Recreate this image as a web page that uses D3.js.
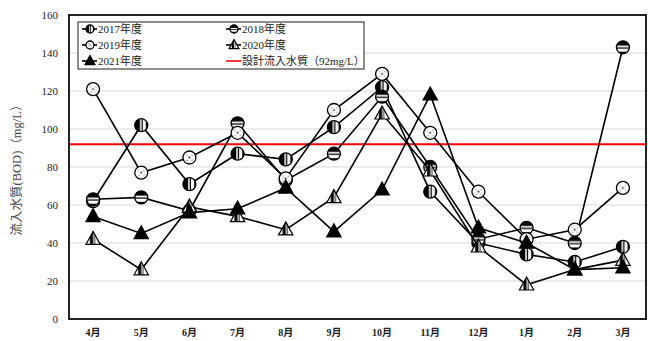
<!DOCTYPE html>
<html>
<head>
<meta charset="utf-8">
<script src="https://cdn.jsdelivr.net/npm/d3@7"></script>
<style>
  html, body { margin: 0; padding: 0; background: #fff; }
  svg { display: block; }
  text { font-family: "Liberation Serif", "Times New Roman", "Noto Sans CJK JP", serif; }
</style>
</head>
<body>
<svg id="chart" width="648" height="341"></svg>
<script>
// Monthly influent BOD (mg/L) by fiscal year
const months = ["4月","5月","6月","7月","8月","9月","10月","11月","12月","1月","2月","3月"];
const fy2017 = [62, 102, 71, 87, 84, 101, 122, 67, 40, 34, 30, 38];
const fy2018 = [63, 64, 57, 103, 73, 87, 117, 80, 42, 48, 40, 143];
const fy2019 = [121, 77, 85, 98, 74, 110, 129, 98, 67, 42, 47, 69];
const fy2020 = [42, 26, 59, 54, 47, 64, 108, 78, 38, 18, 26, 31];
const fy2021 = [54, 45, 56, 58, 69, 46, 68, 118, 48, 40, 26, 27];
const designValue = 92;
const yTicks = [0, 20, 40, 60, 80, 100, 120, 140, 160];
const seriesNames = ["2017年度","2018年度","2019年度","2020年度","2021年度"];
const designLabel = "設計流入水質（92mg/L）";
const yTitle = "流入水質(BOD)（mg/L）";

const series = [
  { name: seriesNames[0], values: fy2017, shape: "circle", fill: "url(#vstripe)" },
  { name: seriesNames[1], values: fy2018, shape: "circle", fill: "url(#hstripe)" },
  { name: seriesNames[2], values: fy2019, shape: "circle", fill: "url(#dots)" },
  { name: seriesNames[3], values: fy2020, shape: "triangle", fill: "url(#vstripeTri)" },
  { name: seriesNames[4], values: fy2021, shape: "triangle", fill: "#000" }
];

const svg = d3.select("#chart");
const margin = { left: 69, right: 1, top: 15, bottom: 22 };
const W = 648, H = 341;
const innerW = W - margin.left - margin.right;
const plotBottom = 319;

const x = d3.scaleBand().domain(months).range([margin.left, W - margin.right]);
const y = d3.scaleLinear().domain([0, 160]).range([plotBottom, margin.top]);

// Marker fill patterns
const defs = svg.append("defs");
function stripePattern(id, bands, vertical) {
  const p = defs.append("pattern").attr("id", id)
    .attr("patternUnits", "objectBoundingBox")
    .attr("patternContentUnits", "objectBoundingBox")
    .attr("width", 1).attr("height", 1);
  p.append("rect").attr("width", 1).attr("height", 1).attr("fill", "#fff");
  bands.forEach(([a, b]) => {
    if (vertical) p.append("rect").attr("x", a).attr("y", 0).attr("width", b - a).attr("height", 1).attr("fill", "#000");
    else p.append("rect").attr("x", 0).attr("y", a).attr("width", 1).attr("height", b - a).attr("fill", "#000");
  });
}
stripePattern("vstripe", [[0, 0.4], [0.52, 0.62], [0.86, 1]], true);
stripePattern("hstripe", [[0, 0.36], [0.5, 0.6], [0.84, 1]], false);
stripePattern("vstripeTri", [[0.28, 0.5], [0.58, 0.64]], true);
const dp = defs.append("pattern").attr("id", "dots")
  .attr("patternUnits", "objectBoundingBox")
  .attr("patternContentUnits", "objectBoundingBox")
  .attr("width", 1).attr("height", 1);
dp.append("rect").attr("width", 1).attr("height", 1).attr("fill", "#fff");
[[0.5, 0.5, 0.08], [0.3, 0.3, 0.04], [0.7, 0.32, 0.04], [0.32, 0.72, 0.04], [0.7, 0.7, 0.04]]
  .forEach(([cx, cy, r]) => dp.append("circle").attr("cx", cx).attr("cy", cy).attr("r", r).attr("fill", "#333"));

// Gridlines
svg.append("g").selectAll("line").data(yTicks.filter(d => d > 0 && d < 160)).join("line")
  .attr("x1", margin.left).attr("x2", W - margin.right)
  .attr("y1", d => y(d)).attr("y2", d => y(d))
  .attr("stroke", "#d9d9d9").attr("stroke-width", 1);

// Y axis
const yAxis = svg.append("g").attr("transform", `translate(${margin.left},0)`)
  .call(d3.axisLeft(y).tickValues(yTicks).tickSize(0).tickPadding(11));
yAxis.select(".domain").remove();
yAxis.selectAll("text").attr("font-size", 11).attr("fill", "#222")
  .style("font-family", "'Liberation Serif', serif");

// X axis labels
const xAxis = svg.append("g").attr("transform", `translate(0,${plotBottom})`)
  .call(d3.axisBottom(x).tickSize(0).tickPadding(10));
xAxis.select(".domain").remove();
xAxis.selectAll("text").attr("font-size", 10).attr("font-weight", "bold").attr("fill", "#222");

// Plot frame
svg.append("rect").attr("x", margin.left).attr("y", margin.top)
  .attr("width", innerW - 1).attr("height", plotBottom - margin.top)
  .attr("fill", "none").attr("stroke", "#222").attr("stroke-width", 2);

// Y axis title
svg.append("text")
  .attr("transform", `translate(21,${(margin.top + plotBottom) / 2}) rotate(-90)`)
  .attr("text-anchor", "middle").attr("font-size", 12.5).attr("fill", "#444")
  .text(yTitle);

// Design influent quality line
svg.append("line")
  .attr("x1", margin.left + 1).attr("x2", W - margin.right - 1)
  .attr("y1", y(designValue)).attr("y2", y(designValue))
  .attr("stroke", "#ff0000").attr("stroke-width", 2);

// Series lines and markers
const line = d3.line().x((d, i) => x(months[i]) + x.bandwidth() / 2).y(d => y(d));
const triPath = s => `M0,${-s * 0.6}L${s * 0.55},${s * 0.4}L${-s * 0.55},${s * 0.4}Z`;

function drawMarker(g, shape, fill, cx, cy, size) {
  if (shape === "circle") {
    g.append("circle").attr("cx", cx).attr("cy", cy).attr("r", size / 2)
      .attr("fill", fill).attr("stroke", "#000").attr("stroke-width", 1.3);
  } else {
    g.append("path").attr("d", triPath(size)).attr("transform", `translate(${cx},${cy})`)
      .attr("fill", fill).attr("stroke", "#000").attr("stroke-width", 1.2);
  }
}

series.forEach(s => {
  const g = svg.append("g");
  g.append("path").datum(s.values).attr("d", line)
    .attr("fill", "none").attr("stroke", "#000").attr("stroke-width", 1.6);
  s.values.forEach((v, i) => drawMarker(g, s.shape, s.fill, x(months[i]) + x.bandwidth() / 2, y(v), s.shape === "circle" ? 13 : 13));
});

// Legend
const lg = svg.append("g");
lg.append("rect").attr("x", 78).attr("y", 22).attr("width", 286).attr("height", 47)
  .attr("fill", "#fff").attr("stroke", "#444").attr("stroke-width", 1.2);
const legendItems = [
  { s: series[0], col: 0, row: 0 },
  { s: series[1], col: 1, row: 0 },
  { s: series[2], col: 0, row: 1 },
  { s: series[3], col: 1, row: 1 },
  { s: series[4], col: 0, row: 2 },
  { s: null, col: 1, row: 2 }
];
legendItems.forEach(it => {
  const lx = it.col === 0 ? 82 : 226;
  const ly = 29 + it.row * 16;
  if (it.s) {
    lg.append("line").attr("x1", lx).attr("x2", lx + 15).attr("y1", ly).attr("y2", ly)
      .attr("stroke", "#000").attr("stroke-width", 1.6);
    drawMarker(lg, it.s.shape, it.s.fill, lx + 8, ly, it.s.shape === "circle" ? 8 : 9);
  } else {
    lg.append("line").attr("x1", lx).attr("x2", lx + 15).attr("y1", ly).attr("y2", ly)
      .attr("stroke", "#ff0000").attr("stroke-width", 1.6);
  }
  lg.append("text").attr("x", lx + 16).attr("y", ly + 4).attr("font-size", 11).attr("fill", "#222")
    .text(it.s ? it.s.name : designLabel);
});
</script>
</body>
</html>
